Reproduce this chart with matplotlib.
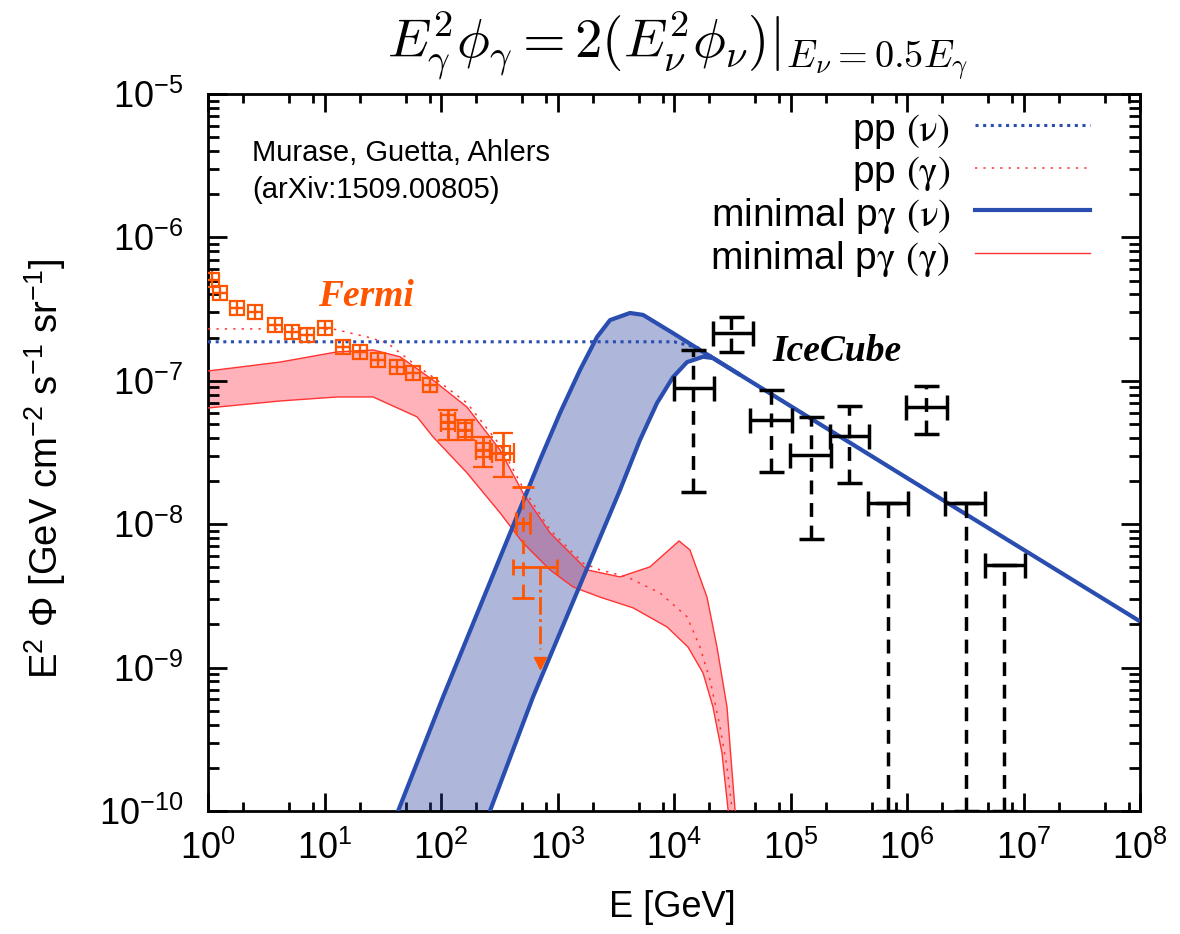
import numpy as np
import matplotlib
matplotlib.use('Agg')
import matplotlib.pyplot as plt
from matplotlib.ticker import LogLocator, FuncFormatter, NullFormatter
from matplotlib.lines import Line2D

plt.rcParams['font.family'] = ['Liberation Sans', 'DejaVu Sans']

# ---------------- data ----------------
# minimal p-gamma neutrino band (upper and lower edges)
nu_up_E = [36, 42.8, 104, 708, 1050, 1560, 2183, 2825, 4190, 5420, 9800, 15740, 36900, 1.0e6, 1.0e8]
nu_up_F = [7e-11, 1.0e-10, 6.24e-10, 2.81e-8, 5.96e-8, 1.19e-7, 2.02e-7, 2.65e-7, 2.97e-7, 2.88e-7,
           2.15e-7, 1.69e-7, 1.10e-7, 2.10e-8, 2.1e-9]
nu_lo_E = [220, 263, 616, 3438, 5100, 7150, 9800, 12940, 17750, 21600, 36900]
nu_lo_F = [7e-11, 1.0e-10, 6.24e-10, 1.73e-8, 3.86e-8, 7.0e-8, 1.06e-7, 1.35e-7, 1.47e-7, 1.44e-7, 1.10e-7]

# pp neutrino (dotted)
ppnu_E = [1, 1.0e4, 1.6e4, 36900, 1.0e8]
ppnu_F = [1.87e-7, 1.87e-7, 1.70e-7, 1.10e-7, 2.1e-9]

# minimal p-gamma gamma-ray band
g_up_E = [1, 4.15, 12.8, 26.1, 44.5, 85.4, 167, 321, 506, 863, 1790, 3440, 6220, 11040, 13710,
          19190, 23380, 28500, 33400, 34500]
g_up_F = [1.17e-7, 1.35e-7, 1.59e-7, 1.64e-7, 1.47e-7, 1.01e-7, 6.56e-8, 3.29e-8, 1.65e-8, 8.69e-9,
          4.80e-9, 4.29e-9, 5.04e-9, 7.64e-9, 6.61e-9, 3.10e-9, 1.39e-9, 5.31e-10, 1.02e-10, 7e-11]
g_lo_E = [1, 4.15, 12.8, 26.1, 62.3, 85.4, 167, 321, 506, 863, 1360, 2317, 4450, 8710, 13190,
          17750, 21600, 25800, 29100, 30000]
g_lo_F = [6.46e-8, 7.23e-8, 7.71e-8, 7.71e-8, 5.6e-8, 4.06e-8, 2.28e-8, 1.20e-8, 7.40e-9, 4.80e-9,
          3.65e-9, 3.10e-9, 2.61e-9, 1.92e-9, 1.39e-9, 9.17e-10, 5.31e-10, 2.54e-10, 1.02e-10, 7e-11]

# pp gamma (dotted)
ppg_E = [1, 11.8, 23.2, 34.4, 57.5, 85.4, 167, 321, 506, 863, 1656, 2317, 3950, 7590, 12940,
         16710, 20370, 24830, 28500, 31500, 32500]
ppg_F = [2.30e-7, 2.30e-7, 2.02e-7, 1.84e-7, 1.33e-7, 1.06e-7, 7.0e-8, 3.56e-8, 1.79e-8, 9.12e-9,
         5.36e-9, 4.80e-9, 4.29e-9, 3.31e-9, 2.26e-9, 1.39e-9, 8.2e-10, 3.86e-10, 2.03e-10, 1.02e-10, 7e-11]

# Fermi data points (low energy, small errors)
fermi_E = [1.08, 1.27, 1.77, 2.53, 3.76, 5.26, 7.08, 10.1, 14.4, 20.2, 28.8, 41.9, 57.5, 80.5]
fermi_Elo = [0.94, 1.10, 1.54, 2.20, 3.27, 4.58, 6.16, 8.8, 12.5, 17.6, 25.1, 36.5, 50.0, 70.0]
fermi_Ehi = [1.24, 1.46, 2.04, 2.91, 4.33, 6.05, 8.14, 11.6, 16.6, 23.2, 33.1, 48.2, 66.1, 92.6]
fermi_F = [5.05e-7, 4.09e-7, 3.22e-7, 3.02e-7, 2.45e-7, 2.19e-7, 2.09e-7, 2.34e-7, 1.72e-7, 1.59e-7,
           1.40e-7, 1.25e-7, 1.13e-7, 9.35e-8]
fermi_Flo = [4.5e-7, 3.9e-7, 3.07e-7, 2.88e-7, 2.33e-7, 2.08e-7, 1.98e-7, 2.2e-7, 1.64e-7, 1.52e-7,
             1.33e-7, 1.19e-7, 1.07e-7, 8.9e-8]
fermi_Fhi = [5.8e-7, 4.3e-7, 3.38e-7, 3.17e-7, 2.57e-7, 2.30e-7, 2.20e-7, 2.5e-7, 1.80e-7, 1.67e-7,
             1.47e-7, 1.31e-7, 1.19e-7, 9.8e-8]
# Fermi data points (high energy, larger errors)
fermiH_E = [115, 161, 230, 340]
fermiH_Elo = [100, 140, 200, 274]
fermiH_Ehi = [132, 185, 265, 422]
fermiH_F = [5.16e-8, 4.54e-8, 3.29e-8, 3.14e-8]
fermiH_Flo = [3.86e-8, 3.86e-8, 2.5e-8, 2.13e-8]
fermiH_Fhi = [6.25e-8, 5.33e-8, 4.06e-8, 4.33e-8]
# last Fermi point (dashed lower error)
fermi2_E = [506]
fermi2_Elo = [440]
fermi2_Ehi = [580]
fermi2_F = [1.02e-8]
fermi2_Flo = [3.05e-9]
fermi2_Fhi = [1.82e-8]
# Fermi upper limit
fermi_ul_E = [708]
fermi_ul_Elo = [415]
fermi_ul_Ehi = [991]
fermi_ul_F = [5.0e-9]
fermi_ul_tip = [1.08e-9]

# IceCube data points
ic_E = [1.46e4, 3.09e4, 6.8e4, 1.5e5, 3.18e5, 1.46e6]
ic_Elo = [1.0e4, 2.16e4, 4.49e4, 9.9e4, 2.18e5, 9.8e5]
ic_Ehi = [2.2e4, 4.76e4, 1.03e5, 2.23e5, 4.72e5, 2.2e6]
ic_F = [8.9e-8, 2.16e-7, 5.33e-8, 3.04e-8, 4.12e-8, 6.56e-8]
ic_Flo = [1.68e-8, 1.59e-7, 2.31e-8, 7.9e-9, 1.94e-8, 4.26e-8]
ic_Fhi = [1.64e-7, 2.79e-7, 8.63e-8, 5.6e-8, 6.67e-8, 9.2e-8]
# IceCube upper limits
icul_E = [6.87e5, 3.2e6, 6.8e6]
icul_Elo = [4.62e5, 2.12e6, 4.68e6]
icul_Ehi = [1.02e6, 4.68e6, 1.03e7]
icul_F = [1.41e-8, 1.41e-8, 5.19e-9]
icul_bottom = [1.0e-10, 1.0e-10, 1.0e-10]

legend_labels = [r'pp $\mathrm{(\nu)}$', r'pp $\mathrm{(\gamma)}$',
                 r'minimal p$\mathrm{\gamma}$ $\mathrm{(\nu)}$',
                 r'minimal p$\mathrm{\gamma}$ $\mathrm{(\gamma)}$']

# ---------------- styles ----------------
BLUE = '#2A4DB0'
BLUE_FILL = '#2A3FA0'
RED = '#FF3333'
RED_FILL = '#FF4050'
FERMI = '#FF5500'

fig = plt.figure(figsize=(11.8, 9.34), dpi=100)
ax = fig.add_axes([0.1763, 0.1317, 0.7898, 0.7677])
ax.set_xscale('log')
ax.set_yscale('log')
ax.set_xlim(1, 1e8)
ax.set_ylim(1e-10, 1e-5)

# bands
ax.fill(list(g_up_E) + list(g_lo_E[::-1]), list(g_up_F) + list(g_lo_F[::-1]),
        color=RED_FILL, alpha=0.4, lw=0, zorder=1)
ax.fill(list(nu_up_E) + list(nu_lo_E[::-1]), list(nu_up_F) + list(nu_lo_F[::-1]),
        color=BLUE_FILL, alpha=0.38, lw=0, zorder=2)
ax.plot(g_up_E, g_up_F, color=RED, lw=1.0, zorder=3)
ax.plot(g_lo_E, g_lo_F, color=RED, lw=1.0, zorder=3)
ax.plot(ppg_E, ppg_F, color=RED, lw=1.1, ls=(0, (1.5, 4)), zorder=3)
ax.plot(ppnu_E, ppnu_F, color=BLUE, lw=2.2, ls=(0, (1, 1.5)), zorder=4)
ax.plot(nu_up_E, nu_up_F, color=BLUE, lw=3.0, zorder=5, solid_capstyle='butt')
ax.plot(nu_lo_E, nu_lo_F, color=BLUE, lw=3.0, zorder=5, solid_capstyle='butt')

# Fermi
fE = np.array(fermi_E); fF = np.array(fermi_F)
ax.errorbar(fE, fF, xerr=[fE - np.array(fermi_Elo), np.array(fermi_Ehi) - fE],
            yerr=[fF - np.array(fermi_Flo), np.array(fermi_Fhi) - fF],
            fmt='s', mfc='none', mec=FERMI, ms=9.5, mew=1.6, ecolor=FERMI,
            elinewidth=1.6, capsize=0, zorder=7)
ax.plot(fE, fF, ls='none', marker='+', ms=9.5, mew=1.6, color=FERMI, zorder=7)
fhE = np.array(fermiH_E); fhF = np.array(fermiH_F)
ax.errorbar(fhE, fhF, xerr=[fhE - np.array(fermiH_Elo), np.array(fermiH_Ehi) - fhE],
            yerr=[fhF - np.array(fermiH_Flo), np.array(fermiH_Fhi) - fhF],
            fmt='s', mfc='none', mec=FERMI, ms=9.5, mew=1.6, ecolor=FERMI,
            elinewidth=2, capsize=7, capthick=2, zorder=7)
ax.plot(fhE, fhF, ls='none', marker='+', ms=9.5, mew=1.6, color=FERMI, zorder=7)
f2E = np.array(fermi2_E); f2F = np.array(fermi2_F)
eb = ax.errorbar(f2E, f2F, xerr=[f2E - np.array(fermi2_Elo), np.array(fermi2_Ehi) - f2E],
                 yerr=[f2F - np.array(fermi2_Flo), np.array(fermi2_Fhi) - f2F],
                 fmt='+', ms=9, mew=2, color=FERMI, elinewidth=2, capsize=8, capthick=2, zorder=7)
eb.lines[2][1].set_linestyle((0, (5, 3)))
fuE = np.array(fermi_ul_E)
ax.errorbar(fuE, fermi_ul_F, xerr=[fuE - np.array(fermi_ul_Elo), np.array(fermi_ul_Ehi) - fuE],
            fmt='none', ecolor=FERMI, elinewidth=2, capsize=6, capthick=2, zorder=7)
ax.plot(fermi_ul_E * 2, [fermi_ul_F[0], fermi_ul_tip[0] * 1.25], color=FERMI, lw=2,
        ls='-.', zorder=7)
ax.plot(fermi_ul_E, fermi_ul_tip, ls='none', marker='v', ms=9, color=FERMI, zorder=7)

# IceCube
iE = np.array(ic_E); iF = np.array(ic_F)
eb = ax.errorbar(iE, iF, xerr=[iE - np.array(ic_Elo), np.array(ic_Ehi) - iE],
                 yerr=[iF - np.array(ic_Flo), np.array(ic_Fhi) - iF],
                 fmt='none', ecolor='black', elinewidth=2.5, capsize=9, capthick=2.5, zorder=8)
eb.lines[2][1].set_linestyle((0, (4, 2.5)))
uE = np.array(icul_E); uF = np.array(icul_F)
eb = ax.errorbar(uE, uF, xerr=[uE - np.array(icul_Elo), np.array(icul_Ehi) - uE],
                 yerr=[uF - np.array(icul_bottom), np.zeros_like(uF)],
                 fmt='none', ecolor='black', elinewidth=2.5, capsize=9, capthick=2.5, zorder=8)
eb.lines[2][1].set_linestyle((0, (4, 2.5)))

# texts
ax.text(0.047, 0.937, 'Murase, Guetta, Ahlers\n(arXiv:1509.00805)', transform=ax.transAxes,
        ha='left', va='top', fontsize=21, linespacing=1.42)
ax.text(22.7, 3.9e-7, 'Fermi', family=['Liberation Serif'], style='italic', weight='bold',
        fontsize=27, color=FERMI, ha='center', va='center', zorder=9)
ax.text(2.5e5, 1.59e-7, 'IceCube', family=['Liberation Serif'], style='italic', weight='bold',
        fontsize=27, color='black', ha='center', va='center', zorder=9)

fig.text(0.574, 0.951, r'$E_\gamma^2\phi_\gamma = 2(E_\nu^2\phi_\nu)|_{E_\nu=0.5E_\gamma}$',
         ha='center', va='center', fontsize=39.5, math_fontfamily='cm')

# axes styling
for s in ax.spines.values():
    s.set_linewidth(2)
ax.xaxis.set_major_locator(LogLocator(base=10, numticks=20))
ax.xaxis.set_minor_locator(LogLocator(base=10, subs=[2, 5, 8], numticks=20))
ax.yaxis.set_major_locator(LogLocator(base=10, numticks=20))
ax.yaxis.set_minor_locator(LogLocator(base=10, subs=np.arange(2, 10), numticks=20))
fmt = FuncFormatter(lambda v, p: r'$\mathregular{10^{%d}}$' % int(round(np.log10(v))))
ax.xaxis.set_major_formatter(fmt)
ax.yaxis.set_major_formatter(fmt)
ax.xaxis.set_minor_formatter(NullFormatter())
ax.yaxis.set_minor_formatter(NullFormatter())
ax.tick_params(which='both', direction='in', top=True, right=True, width=2, labelsize=26)
ax.tick_params(axis='x', which='major', length=13, pad=14)
ax.tick_params(axis='x', which='minor', length=6.5)
ax.tick_params(axis='y', which='major', length=14, pad=18)
ax.tick_params(axis='y', which='minor', length=8)

ax.set_xlabel('E [GeV]', fontsize=26)
ax.xaxis.set_label_coords(0.498, -0.110)
ax.set_ylabel(r'E$^{\mathregular{2}}$ Φ [GeV cm$^{\mathregular{-2}}$ s$^{\mathregular{-1}}$ sr$^{\mathregular{-1}}$]',
              fontsize=27.5)
ax.yaxis.set_label_coords(-0.150, 0.477)

handles = [Line2D([], [], color=BLUE, lw=2.2, ls=(0, (1, 1.5))),
           Line2D([], [], color=RED, lw=1.1, ls=(0, (1.5, 4))),
           Line2D([], [], color=BLUE, lw=3.0),
           Line2D([], [], color=RED, lw=1.0)]
leg = ax.legend(handles, legend_labels, loc='upper right', bbox_to_anchor=(0.9464, 0.975),
                frameon=False, markerfirst=False, fontsize=28, handlelength=2.95,
                handletextpad=0.65, labelspacing=0.08, borderaxespad=0, borderpad=0)
for t in leg.get_texts():
    t.set_math_fontfamily('stix')
    t.set_ha('right')
leg._legend_box.align = 'right'
for vp in leg._legend_box.get_children()[1].get_children():
    for c in vp.get_children():
        c.align = 'right'

fig.savefig('out.png', dpi=100)
